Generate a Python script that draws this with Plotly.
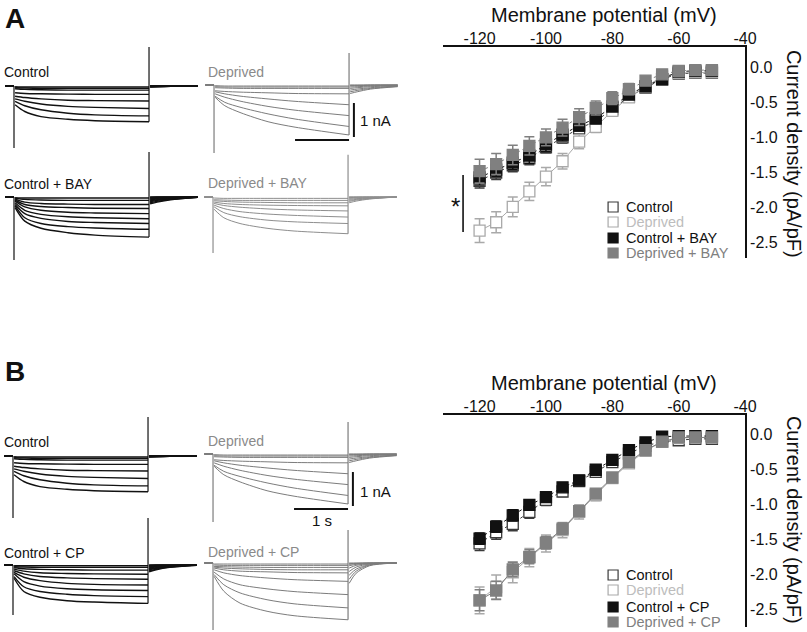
import plotly.graph_objects as go

W, H = 807, 632
FONT = "Liberation Sans, Arial, sans-serif"
X_COMP = 0.985  # the photographed page comes out ~1.5% narrower than laid out

# ---------------- I-V data (pA/pF) ----------------
VOLTAGES = [-120, -115, -110, -105, -100, -95, -90, -85, -80, -75, -70, -65, -60, -55, -50]
X_TICKS = [-120, -100, -80, -60, -40]
X_TICK_LABELS = ["-120", "-100", "-80", "-60", "-40"]
Y_TICKS = [0.0, -0.5, -1.0, -1.5, -2.0, -2.5]
Y_TICK_LABELS = ["0.0", "-0.5", "-1.0", "-1.5", "-2.0", "-2.5"]

A_CONTROL = [-1.62, -1.50, -1.40, -1.30, -1.14, -1.00, -0.87, -0.77, -0.60, -0.42, -0.29, -0.17, -0.09, -0.08, -0.08]
A_CONTROL_ERR = [0.10, 0.10, 0.09, 0.09, 0.08, 0.08, 0.07, 0.06, 0.05, 0.04, 0.03, 0.03, 0.02, 0.02, 0.02]
A_DEPRIVED = [-2.33, -2.21, -1.99, -1.77, -1.56, -1.34, -1.06, -0.85, -0.62, -0.43, -0.28, -0.13, -0.08, -0.07, -0.07]
A_DEPRIVED_ERR = [0.17, 0.15, 0.14, 0.13, 0.13, 0.11, 0.10, 0.08, 0.07, 0.05, 0.04, 0.03, 0.02, 0.02, 0.02]
A_CONTROL_BAY = [-1.57, -1.46, -1.36, -1.26, -1.10, -0.96, -0.83, -0.73, -0.56, -0.39, -0.27, -0.17, -0.06, -0.05, -0.05]
A_CONTROL_BAY_ERR = [0.11, 0.10, 0.10, 0.11, 0.10, 0.09, 0.08, 0.07, 0.06, 0.04, 0.03, 0.02, 0.02, 0.02, 0.02]
A_DEPRIVED_BAY = [-1.48, -1.38, -1.25, -1.12, -1.00, -0.86, -0.71, -0.58, -0.44, -0.31, -0.19, -0.10, -0.05, -0.04, -0.04]
A_DEPRIVED_BAY_ERR = [0.17, 0.15, 0.14, 0.13, 0.12, 0.12, 0.12, 0.10, 0.09, 0.08, 0.06, 0.04, 0.03, 0.03, 0.03]

B_CONTROL = [-1.56, -1.40, -1.28, -1.11, -0.94, -0.82, -0.67, -0.54, -0.40, -0.28, -0.17, -0.11, -0.09, -0.07, -0.07]
B_CONTROL_ERR = [0.10, 0.10, 0.10, 0.09, 0.08, 0.07, 0.06, 0.05, 0.04, 0.04, 0.03, 0.03, 0.02, 0.02, 0.02]
B_DEPRIVED = [-2.37, -2.18, -1.97, -1.76, -1.56, -1.37, -1.11, -0.87, -0.63, -0.42, -0.24, -0.11, -0.06, -0.05, -0.05]
B_DEPRIVED_ERR = [0.19, 0.17, 0.15, 0.13, 0.12, 0.11, 0.10, 0.08, 0.07, 0.05, 0.04, 0.03, 0.02, 0.02, 0.02]
B_CONTROL_CP = [-1.49, -1.32, -1.16, -1.01, -0.90, -0.76, -0.66, -0.51, -0.37, -0.23, -0.12, -0.04, -0.03, -0.03, -0.03]
B_CONTROL_CP_ERR = [0.08, 0.08, 0.08, 0.07, 0.06, 0.05, 0.05, 0.04, 0.04, 0.03, 0.03, 0.02, 0.02, 0.02, 0.02]
B_DEPRIVED_CP = [-2.37, -2.23, -1.93, -1.75, -1.55, -1.35, -1.10, -0.85, -0.62, -0.40, -0.23, -0.11, -0.05, -0.05, -0.05]
B_DEPRIVED_CP_ERR = [0.15, 0.13, 0.10, 0.10, 0.09, 0.08, 0.07, 0.06, 0.05, 0.04, 0.03, 0.02, 0.02, 0.02, 0.02]

# ---------------- current sweeps (nA), read at these times (s) ----------------
SWEEP_T = [0.02, 0.2, 0.5, 1.0, 1.5, 2.5]
TAIL_T = [0.02, 0.15, 0.4, 0.9]
PRE_T = -0.16
STEP_END = 2.5

CTRL_SWEEPS = [
    [-0.55, -0.75, -0.90, -0.98, -1.02, -1.05],
    [-0.45, -0.58, -0.70, -0.80, -0.85, -0.88],
    [-0.38, -0.45, -0.53, -0.60, -0.63, -0.66],
    [-0.30, -0.34, -0.38, -0.42, -0.43, -0.44],
    [-0.20, -0.22, -0.23, -0.24, -0.245, -0.245],
    [-0.08, -0.10, -0.11, -0.12, -0.12, -0.12],
    [-0.05, -0.06, -0.07, -0.07, -0.07, -0.07],
    [-0.02, -0.03, -0.03, -0.03, -0.03, -0.03],
]
CTRL_TAILS = [
    [-0.03, -0.02, -0.01, 0.0], [-0.02, -0.02, -0.01, 0.0], [-0.02, -0.01, 0.0, 0.0], [-0.01, -0.01, 0.0, 0.0],
    [0.0, 0.0, 0.0, 0.0], [0.0, 0.0, 0.0, 0.0], [0.0, 0.0, 0.0, 0.0], [0.0, 0.0, 0.0, 0.0],
]
DEP_SWEEPS = [
    [-0.36, -0.61, -0.82, -1.08, -1.24, -1.47],
    [-0.33, -0.51, -0.66, -0.85, -1.00, -1.22],
    [-0.26, -0.36, -0.48, -0.63, -0.74, -0.90],
    [-0.20, -0.26, -0.33, -0.41, -0.48, -0.58],
    [-0.17, -0.19, -0.21, -0.23, -0.25, -0.26],
    [-0.08, -0.09, -0.10, -0.10, -0.10, -0.10],
    [-0.05, -0.06, -0.06, -0.06, -0.06, -0.06],
    [-0.02, -0.03, -0.03, -0.03, -0.03, -0.03],
]
DEP_TAILS = [
    [-0.25, -0.20, -0.12, -0.05], [-0.20, -0.16, -0.10, -0.04], [-0.15, -0.12, -0.08, -0.03],
    [-0.10, -0.08, -0.05, -0.02], [-0.06, -0.05, -0.03, -0.01], [-0.03, -0.02, -0.01, 0.0],
    [-0.01, -0.01, 0.0, 0.0], [0.0, 0.0, 0.0, 0.0],
]
CBAY_SWEEPS = [
    [-0.31, -0.71, -0.92, -1.05, -1.12, -1.18],
    [-0.26, -0.61, -0.78, -0.87, -0.91, -0.95],
    [-0.22, -0.49, -0.63, -0.72, -0.75, -0.78],
    [-0.17, -0.39, -0.51, -0.58, -0.61, -0.64],
    [-0.12, -0.29, -0.39, -0.45, -0.47, -0.49],
    [-0.09, -0.22, -0.28, -0.31, -0.33, -0.34],
    [-0.06, -0.15, -0.19, -0.21, -0.22, -0.22],
    [-0.04, -0.07, -0.09, -0.10, -0.10, -0.10],
    [-0.02, -0.03, -0.03, -0.03, -0.03, -0.03],
]
CBAY_TAILS = [
    [-0.20, -0.15, -0.08, -0.01], [-0.17, -0.13, -0.07, -0.01], [-0.14, -0.10, -0.06, -0.01],
    [-0.11, -0.08, -0.05, 0.0], [-0.08, -0.06, -0.03, 0.0], [-0.05, -0.04, -0.02, 0.0],
    [-0.03, -0.02, -0.01, 0.0], [-0.01, 0.0, 0.0, 0.0], [0.0, 0.0, 0.0, 0.0],
]
DBAY_SWEEPS = [
    [-0.36, -0.61, -0.78, -0.92, -1.00, -1.08],
    [-0.29, -0.46, -0.58, -0.68, -0.73, -0.78],
    [-0.24, -0.34, -0.43, -0.50, -0.54, -0.59],
    [-0.19, -0.25, -0.30, -0.35, -0.38, -0.41],
    [-0.15, -0.19, -0.22, -0.24, -0.25, -0.26],
    [-0.11, -0.13, -0.15, -0.16, -0.17, -0.17],
    [-0.08, -0.09, -0.10, -0.10, -0.10, -0.10],
    [-0.03, -0.04, -0.04, -0.04, -0.04, -0.04],
]
DBAY_TAILS = [
    [-0.17, -0.12, -0.06, 0.0], [-0.13, -0.09, -0.05, 0.0], [-0.10, -0.07, -0.04, 0.0],
    [-0.07, -0.05, -0.03, 0.0], [-0.04, -0.03, -0.02, 0.0], [-0.02, -0.01, 0.0, 0.0],
    [0.0, 0.0, 0.0, 0.0], [0.0, 0.0, 0.0, 0.0],
]
CCP_SWEEPS = [
    [-0.39, -0.78, -0.95, -1.05, -1.09, -1.13],
    [-0.34, -0.64, -0.78, -0.86, -0.90, -0.93],
    [-0.26, -0.49, -0.62, -0.70, -0.73, -0.75],
    [-0.22, -0.36, -0.46, -0.54, -0.57, -0.59],
    [-0.17, -0.26, -0.34, -0.38, -0.40, -0.42],
    [-0.12, -0.18, -0.23, -0.25, -0.26, -0.27],
    [-0.08, -0.11, -0.13, -0.14, -0.15, -0.15],
    [-0.05, -0.06, -0.07, -0.07, -0.07, -0.07],
    [-0.02, -0.02, -0.02, -0.02, -0.02, -0.02],
]
CCP_TAILS = [
    [-0.20, -0.14, -0.07, -0.01], [-0.17, -0.12, -0.06, -0.01], [-0.14, -0.10, -0.05, 0.0],
    [-0.11, -0.08, -0.04, 0.0], [-0.08, -0.06, -0.03, 0.0], [-0.05, -0.04, -0.02, 0.0],
    [-0.03, -0.02, -0.01, 0.0], [-0.01, 0.0, 0.0, 0.0], [0.0, 0.0, 0.0, 0.0],
]
DCP_SWEEPS = [
    [-0.39, -0.83, -1.18, -1.42, -1.55, -1.67],
    [-0.34, -0.64, -0.88, -1.08, -1.20, -1.32],
    [-0.27, -0.47, -0.64, -0.76, -0.84, -0.93],
    [-0.20, -0.29, -0.37, -0.44, -0.49, -0.54],
    [-0.15, -0.20, -0.24, -0.26, -0.28, -0.29],
    [-0.12, -0.15, -0.17, -0.19, -0.20, -0.20],
    [-0.10, -0.11, -0.12, -0.13, -0.13, -0.13],
    [-0.06, -0.07, -0.07, -0.07, -0.07, -0.07],
    [-0.03, -0.03, -0.03, -0.03, -0.03, -0.03],
]
DCP_TAILS = [
    [-0.60, -0.30, -0.08, 0.0], [-0.48, -0.24, -0.06, 0.0], [-0.36, -0.18, -0.05, 0.0],
    [-0.25, -0.12, -0.03, 0.0], [-0.15, -0.07, -0.02, 0.0], [-0.08, -0.04, -0.01, 0.0],
    [-0.04, -0.02, 0.0, 0.0], [-0.02, -0.01, 0.0, 0.0], [0.0, 0.0, 0.0, 0.0],
]
# capacitive transients (nA): onset (down) and offset (up)
CTRL_SPIKES = (-1.82, 1.15)
DEP_SPIKES = (-2.00, 0.94)
CBAY_SPIKES = (-1.85, 1.32)
DBAY_SPIKES = (-1.65, 1.24)
CCP_SPIKES = (-1.47, 1.38)
DCP_SPIKES = (-1.97, 0.97)
SCALE_NA = 1.0
SCALE_S = 1.0

# ---------------- styles ----------------
C_BLACK = "#111111"
C_CTRL_LINE = "#3a3a3a"
C_DEP_LINE = "#a9a9a9"
C_GREY = "#808080"
C_DEP_TEXT = "#bdbdbd"
C_TRACE_GREY = "#7c7c7c"

fig = go.Figure()
layout = dict(width=W - 16, height=H - 16, autosize=False, margin=dict(l=0, r=0, t=0, b=0),
              paper_bgcolor="white", plot_bgcolor="rgba(0,0,0,0)",
              showlegend=False, font=dict(family=FONT, color=C_BLACK))
annotations = []
shapes = []


def px(x):
    return min(x / (W * X_COMP), 1.0)


def py(y):
    return 1 - y / H


def ax_keys(i):
    return ("xaxis" if i == 1 else f"xaxis{i}", "yaxis" if i == 1 else f"yaxis{i}",
            "x" if i == 1 else f"x{i}", "y" if i == 1 else f"y{i}")


# ---------------- I-V panels ----------------
def iv_panel(idx, top_px, bottom_px, yrange, series, legend_rows, title_y, ytitle_y):
    xk, yk, xr, yr = ax_keys(idx)
    layout[xk] = dict(domain=[px(443), px(745)], range=[-131, -40], anchor=yr, side="top",
                      showline=True, linecolor=C_BLACK, linewidth=1.6, ticks="",
                      ticklabelstandoff=-5,
                      tickvals=X_TICKS, ticktext=X_TICK_LABELS, showgrid=False, zeroline=False,
                      tickfont=dict(size=16, color=C_BLACK), fixedrange=True)
    layout[yk] = dict(domain=[py(bottom_px), py(top_px)], range=yrange, anchor=xr, side="right",
                      showline=True, linecolor=C_BLACK, linewidth=1.6, ticks="",
                      tickvals=Y_TICKS, ticktext=Y_TICK_LABELS, showgrid=False, zeroline=False,
                      tickfont=dict(size=16, color=C_BLACK), fixedrange=True)
    for s in series:
        fig.add_trace(go.Scatter(
            x=VOLTAGES, y=s["vals"], mode="lines+markers", xaxis=xr, yaxis=yr,
            line=dict(color=s["ecol"], width=1, dash=s["dash"]),
            marker=dict(symbol="square", size=11, color=s["fill"], line=dict(color=s["line"], width=1.3)),
            error_y=dict(type="data", array=s["errs"], visible=True, color=s["ecol"], thickness=1.5, width=5),
            cliponaxis=False))
    annotations.append(dict(text="Membrane potential (mV)", x=px(604), y=py(title_y), xref="paper",
                            yref="paper", showarrow=False, font=dict(size=20, color=C_BLACK),
                            xanchor="center", yanchor="middle"))
    annotations.append(dict(text="Current density (pA/pF)", x=px(794), y=py(ytitle_y), xref="paper",
                            yref="paper", showarrow=False, textangle=90,
                            font=dict(size=20, color=C_BLACK), xanchor="center", yanchor="middle"))
    for s, ry in zip(series, legend_rows):
        shapes.append(dict(type="rect", xref="paper", yref="paper", x0=px(608), x1=px(618),
                           y0=py(ry + 5), y1=py(ry - 5), fillcolor=s["fill"],
                           line=dict(color=s["line"], width=1.2)))
        annotations.append(dict(text=s["label"], x=px(624), y=py(ry), xref="paper", yref="paper",
                                showarrow=False, xanchor="left", yanchor="middle",
                                font=dict(size=14.5, color=s["tcol"])))


def S(vals, errs, fill, line, ecol, dash, label, tcol):
    return dict(vals=vals, errs=errs, fill=fill, line=line, ecol=ecol, dash=dash, label=label, tcol=tcol)


iv_panel(1, 47, 258, [-2.72, 0.29], [
    S(A_CONTROL, A_CONTROL_ERR, "white", C_CTRL_LINE, C_CTRL_LINE, "dot", "Control", C_BLACK),
    S(A_DEPRIVED, A_DEPRIVED_ERR, "white", C_DEP_LINE, C_DEP_LINE, "solid", "Deprived", C_DEP_TEXT),
    S(A_CONTROL_BAY, A_CONTROL_BAY_ERR, C_BLACK, C_BLACK, C_BLACK, "dot", "Control + BAY", C_BLACK),
    S(A_DEPRIVED_BAY, A_DEPRIVED_BAY_ERR, C_GREY, C_GREY, C_GREY, "dot", "Deprived + BAY", C_GREY),
], [207, 222, 238, 253], 15, 154)

iv_panel(2, 415, 627, [-2.75, 0.27], [
    S(B_CONTROL, B_CONTROL_ERR, "white", C_CTRL_LINE, C_CTRL_LINE, "dot", "Control", C_BLACK),
    S(B_DEPRIVED, B_DEPRIVED_ERR, "white", C_DEP_LINE, C_DEP_LINE, "solid", "Deprived", C_DEP_TEXT),
    S(B_CONTROL_CP, B_CONTROL_CP_ERR, C_BLACK, C_BLACK, C_BLACK, "dot", "Control + CP", C_BLACK),
    S(B_DEPRIVED_CP, B_DEPRIVED_CP_ERR, C_GREY, C_GREY, C_GREY, "solid", "Deprived + CP", C_GREY),
], [575, 590, 607, 622], 383, 520)

# significance marker in panel A
shapes.append(dict(type="line", xref="paper", yref="paper", x0=px(463), x1=px(463),
                   y0=py(175), y1=py(232), line=dict(color=C_BLACK, width=1.6)))
annotations.append(dict(text="*", x=px(455), y=py(207), xref="paper", yref="paper", showarrow=False,
                        font=dict(size=24, color=C_BLACK), xanchor="center", yanchor="middle"))

# ---------------- sweep panels ----------------
PX_PER_S = 54.0
PX_PER_NA = 34.0


def sweep_panel(idx, onset_px, base_px, sweeps, tails, spikes, color, width, label, label_y, label_col,
                scalebars=None):
    xk, yk, xr, yr = ax_keys(idx)
    left = max(onset_px - 14, 0)
    right = onset_px + 196
    top = max(base_px - 50, 0)
    bottom = min(base_px + 72, H)
    layout[xk] = dict(domain=[px(left), px(right)],
                      range=[(left - onset_px) / PX_PER_S, (right - onset_px) / PX_PER_S],
                      visible=False, fixedrange=True, anchor=yr)
    layout[yk] = dict(domain=[py(bottom), py(top)],
                      range=[-(bottom - base_px) / PX_PER_NA, (base_px - top) / PX_PER_NA],
                      visible=False, fixedrange=True, anchor=xr)
    xs, ys = [], []
    for i, sw in enumerate(sweeps):
        xs += [PRE_T, 0.0, None] + SWEEP_T + [None]
        ys += [0.0, 0.0, None] + sw + [None]
        xs += [STEP_END + t for t in TAIL_T] + [None]
        ys += tails[i] + [None]
    fig.add_trace(go.Scatter(x=xs, y=ys, mode="lines", xaxis=xr, yaxis=yr,
                             line=dict(color=color, width=width, shape="spline", smoothing=0.8),
                             hoverinfo="skip"))
    end_min = min(sw[-1] for sw in sweeps)
    fig.add_trace(go.Scatter(x=[0.0, 0.0, None, STEP_END, STEP_END],
                             y=[0.0, spikes[0], None, end_min, spikes[1]],
                             mode="lines", xaxis=xr, yaxis=yr,
                             line=dict(color=color, width=1.2), hoverinfo="skip"))
    annotations.append(dict(text=label, x=px(2 if onset_px < 100 else 206), y=py(label_y),
                            xref="paper", yref="paper", showarrow=False, xanchor="left",
                            yanchor="middle", font=dict(size=14, color=label_col)))
    if scalebars:
        vx, vtop, hy, hx0 = scalebars
        fig.add_trace(go.Scatter(x=[vx, vx], y=[vtop, vtop - SCALE_NA], mode="lines", xaxis=xr,
                                 yaxis=yr, line=dict(color=C_BLACK, width=2), hoverinfo="skip"))
        fig.add_trace(go.Scatter(x=[hx0, hx0 + SCALE_S], y=[hy, hy], mode="lines", xaxis=xr,
                                 yaxis=yr, line=dict(color=C_BLACK, width=2), hoverinfo="skip"))


sweep_panel(3, 14, 86, CTRL_SWEEPS, CTRL_TAILS, CTRL_SPIKES, C_BLACK, 1.4, "Control", 72, C_BLACK)
sweep_panel(4, 214, 85, DEP_SWEEPS, DEP_TAILS, DEP_SPIKES, C_TRACE_GREY, 1.0, "Deprived", 72, "#8a8a8a",
            scalebars=(2.59, -0.53, -1.62, 1.5))
sweep_panel(5, 14, 197, CBAY_SWEEPS, CBAY_TAILS, CBAY_SPIKES, C_BLACK, 1.4, "Control + BAY", 184, C_BLACK)
sweep_panel(6, 213, 197, DBAY_SWEEPS, DBAY_TAILS, DBAY_SPIKES, "#8e8e8e", 1.0, "Deprived + BAY", 183, "#8a8a8a")
sweep_panel(7, 13, 456, CTRL_SWEEPS, CTRL_TAILS, CTRL_SPIKES, C_BLACK, 1.4, "Control", 442, C_BLACK)
sweep_panel(8, 213, 454, DEP_SWEEPS, DEP_TAILS, DEP_SPIKES, C_TRACE_GREY, 1.0, "Deprived", 441, "#8a8a8a",
            scalebars=(2.59, -0.53, -1.62, 1.5))
sweep_panel(9, 13, 565, CCP_SWEEPS, CCP_TAILS, CCP_SPIKES, C_BLACK, 1.4, "Control + CP", 553, C_BLACK)
sweep_panel(10, 213, 563, DCP_SWEEPS, DCP_TAILS, DCP_SPIKES, C_TRACE_GREY, 1.0, "Deprived + CP", 552, "#8a8a8a")

for txt, x, y in [("1 nA", 375, 120), ("1 nA", 375, 491), ("1 s", 322, 520)]:
    annotations.append(dict(text=txt, x=px(x), y=py(y), xref="paper", yref="paper", showarrow=False,
                            xanchor="center", yanchor="middle", font=dict(size=15, color=C_BLACK)))

for txt, y in [("<b>A</b>", 18), ("<b>B</b>", 371)]:
    annotations.append(dict(text=txt, x=px(15), y=py(y), xref="paper", yref="paper", showarrow=False,
                            xanchor="center", yanchor="middle", font=dict(size=28, color=C_BLACK)))

layout["annotations"] = annotations
layout["shapes"] = shapes
fig.update_layout(**layout)
fig.write_html(
    "out.html",
    config={"displayModeBar": False, "responsive": False},
    post_script=("document.documentElement.style.margin='0';document.body.style.margin='0';"
                 "document.body.style.padding='0';document.documentElement.style.overflow='hidden';"
                 "document.body.style.overflow='hidden';"
                 "var gd=document.getElementById('{plot_id}');"
                 "gd.style.width='%dpx';gd.style.height='%dpx';"
                 "Plotly.relayout(gd,{width:%d,height:%d});" % (W, H, W, H)),
)
